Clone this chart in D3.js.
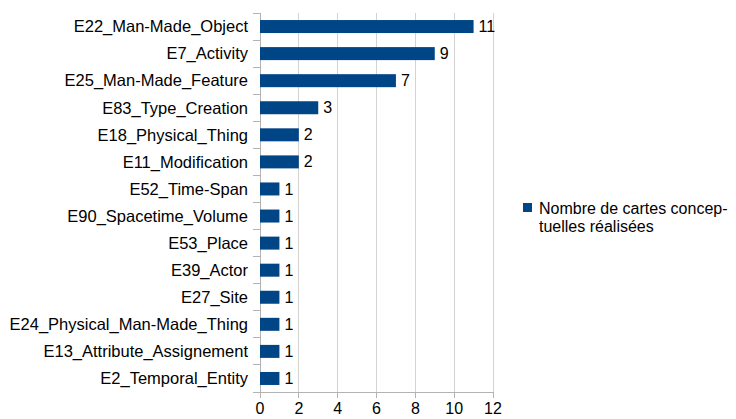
<!DOCTYPE html>
<html>
<head>
<meta charset="utf-8">
<script src="https://cdn.jsdelivr.net/npm/d3@7"></script>
<style>
  body { margin: 0; background: #fff; }
  svg text { font-family: "Liberation Sans", Arial, sans-serif; font-size: 16px; fill: #000; }
  svg text.ylab { font-size: 16.5px; }
</style>
</head>
<body>
<svg id="chart" width="736" height="419"></svg>
<script>
var categories = ["E22_Man-Made_Object", "E7_Activity", "E25_Man-Made_Feature", "E83_Type_Creation",
  "E18_Physical_Thing", "E11_Modification", "E52_Time-Span", "E90_Spacetime_Volume", "E53_Place",
  "E39_Actor", "E27_Site", "E24_Physical_Man-Made_Thing", "E13_Attribute_Assignement", "E2_Temporal_Entity"]
var values = [11, 9, 7, 3, 2, 2, 1, 1, 1, 1, 1, 1, 1, 1]
var xTicks = [0, 2, 4, 6, 8, 10, 12]
var seriesName = ["Nombre de cartes concep-", "tuelles réalisées"]

var svg = d3.select('#chart')
var m = {left: 260, top: 13, right: 243, bottom: 27}
var width = 736 - m.left - m.right
var height = 419 - m.top - m.bottom
var g = svg.append('g').attr('transform', 'translate(' + m.left + ',' + m.top + ')')

var x = d3.scaleLinear().domain([0, 12]).range([0, width])
var y = d3.scaleBand().domain(categories).range([0, height]).paddingInner(0.52).paddingOuter(0.26)

// vertical grid
g.selectAll('line.grid').data(xTicks.slice(1)).join('line')
  .attr('x1', d => x(d)).attr('x2', d => x(d))
  .attr('y1', 0).attr('y2', height)
  .attr('stroke', '#d3d3d3').attr('stroke-width', 1).attr('shape-rendering', 'crispEdges')

// category ticks at band boundaries
var step = height / categories.length
g.selectAll('line.ytick').data(d3.range(categories.length + 1)).join('line')
  .attr('x1', -7).attr('x2', 0)
  .attr('y1', d => d * step).attr('y2', d => d * step)
  .attr('stroke', '#b3b3b3').attr('shape-rendering', 'crispEdges')

// left axis line
g.append('line').attr('x1', 0).attr('x2', 0).attr('y1', 0).attr('y2', height)
  .attr('stroke', '#b3b3b3').attr('shape-rendering', 'crispEdges')

// bottom axis
g.append('line').attr('x1', -7).attr('x2', width).attr('y1', height).attr('y2', height)
  .attr('stroke', '#b3b3b3').attr('shape-rendering', 'crispEdges')
g.selectAll('line.xtick').data(xTicks).join('line')
  .attr('x1', d => x(d)).attr('x2', d => x(d))
  .attr('y1', height).attr('y2', height + 6)
  .attr('stroke', '#b3b3b3').attr('shape-rendering', 'crispEdges')
g.selectAll('text.xlab').data(xTicks).join('text')
  .attr('class', 'xlab')
  .attr('x', d => x(d)).attr('y', height + 22)
  .attr('text-anchor', 'middle')
  .text(d => d)

// category labels
g.selectAll('text.ylab').data(categories).join('text')
  .attr('class', 'ylab')
  .attr('x', -12).attr('y', d => y(d) + y.bandwidth() / 2)
  .attr('dy', '0.35em').attr('text-anchor', 'end')
  .text(d => d)

// bars
g.selectAll('rect.bar').data(values).join('rect')
  .attr('class', 'bar')
  .attr('x', 0).attr('y', (d, i) => y(categories[i]))
  .attr('width', d => x(d)).attr('height', y.bandwidth())
  .attr('fill', '#004586')

// value labels
g.selectAll('text.val').data(values).join('text')
  .attr('class', 'val')
  .attr('x', d => x(d) + 5).attr('y', (d, i) => y(categories[i]) + y.bandwidth() / 2)
  .attr('dy', '0.35em')
  .text(d => d)

// legend
var lg = svg.append('g').attr('transform', 'translate(523,203)')
lg.append('rect').attr('width', 9).attr('height', 9).attr('fill', '#004586')
lg.selectAll('text').data(seriesName).join('text')
  .attr('x', 16).attr('y', (d, i) => 11 + i * 18)
  .text(d => d)
</script>
</body>
</html>
